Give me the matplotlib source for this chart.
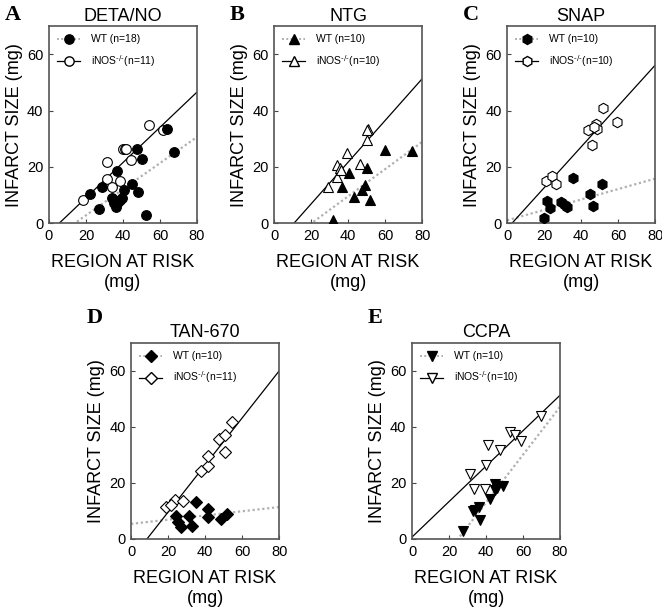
import numpy as np
import matplotlib
matplotlib.use("Agg")
import matplotlib.pyplot as plt
from matplotlib.lines import Line2D
from matplotlib.legend_handler import HandlerLine2D

plt.rcParams['font.family'] = ['Liberation Sans', 'DejaVu Sans']
plt.rcParams['mathtext.default'] = 'regular'

# ---- data (mg) ----
# A: DETA/NO
a_wt_x = [22.1, 27.0, 28.9, 37.0, 33.8, 36.1, 38.3, 40.4, 44.6, 48.2, 47.3, 50.3, 52.7, 64.0, 67.6, 37.4, 39.2, 35.0]
a_wt_y = [10.4, 5.1, 12.8, 18.5, 9.0, 5.9, 8.3, 11.9, 14.0, 11.0, 26.2, 22.9, 3.0, 33.3, 25.4, 7.5, 9.0, 7.0]
a_ko_x = [18.5, 31.1, 31.5, 33.8, 38.3, 40.1, 41.0, 44.2, 54.1, 61.7, 41.8]
a_ko_y = [8.3, 21.7, 15.8, 13.0, 14.8, 26.5, 26.5, 22.3, 35.0, 33.2, 26.3]
a_wt_fit = [0.464, -6.5]   # slope, intercept
a_ko_fit = [0.626, -3.5]

# B: NTG
b_wt_x = [31.6, 36.5, 40.4, 43.1, 47.3, 49.1, 50.3, 51.8, 60.2, 74.8]
b_wt_y = [1.2, 12.8, 17.9, 9.3, 11.6, 13.4, 19.7, 8.3, 25.9, 25.6]
b_ko_x = [28.9, 33.8, 33.8, 35.6, 39.2, 46.7, 50.3, 50.9, 50.0, 36.0]
b_ko_y = [13.0, 16.4, 20.5, 19.7, 24.9, 20.9, 29.4, 33.6, 33.0, 19.0]
b_wt_fit = [0.483, -9.8]
b_ko_fit = [0.741, -8.0]

# C: SNAP
c_wt_x = [20.0, 21.8, 23.0, 29.3, 32.5, 35.6, 44.9, 46.4, 51.4, 31.1]
c_wt_y = [1.9, 7.8, 5.5, 7.5, 5.7, 16.1, 10.2, 6.0, 13.8, 6.6]
c_ko_x = [21.2, 24.4, 26.2, 43.7, 46.0, 47.8, 48.7, 51.8, 59.3, 46.7]
c_ko_y = [14.9, 16.6, 14.0, 33.2, 27.6, 35.3, 33.6, 41.0, 35.9, 34.2]
c_wt_fit = [0.185, 1.0]
c_ko_fit = [0.726, -1.96]

# D: TAN-670
d_wt_x = [24.4, 25.3, 26.8, 31.3, 33.1, 34.9, 41.5, 41.5, 48.7, 51.8]
d_wt_y = [8.3, 6.0, 4.3, 8.1, 4.8, 13.2, 10.7, 7.9, 7.3, 9.0]
d_ko_x = [19.1, 23.9, 28.0, 37.6, 41.5, 41.5, 47.3, 50.5, 50.5, 54.7, 21.8]
d_ko_y = [11.3, 14.0, 13.5, 24.4, 26.2, 29.8, 35.7, 31.0, 37.3, 41.7, 12.3]
d_wt_fit = [0.075, 5.4]
d_ko_fit = [0.840, -7.2]

# E: CCPA
e_wt_x = [27.5, 32.9, 36.0, 37.0, 41.9, 44.9, 46.0, 49.1, 44.6, 33.8]
e_wt_y = [2.7, 9.9, 11.4, 6.7, 14.3, 19.6, 18.2, 18.8, 17.6, 10.5]
e_ko_x = [31.1, 33.4, 39.2, 40.1, 41.3, 47.8, 52.7, 55.4, 59.0, 69.8]
e_ko_y = [23.3, 17.9, 17.9, 26.5, 33.5, 31.9, 38.1, 37.3, 34.9, 44.0]
e_wt_fit = [0.855, -21.2]
e_ko_fit = [0.633, 0.7]

letters = ['A', 'B', 'C', 'D', 'E']
titles = ['DETA/NO', 'NTG', 'SNAP', 'TAN-670', 'CCPA']
markers = ['o', '^', 'h', 'D', 'v']
n_wt = [18, 10, 10, 10, 10]
n_ko = [11, 10, 10, 11, 10]

panels = [
    (a_wt_x, a_wt_y, a_ko_x, a_ko_y, a_wt_fit, a_ko_fit),
    (b_wt_x, b_wt_y, b_ko_x, b_ko_y, b_wt_fit, b_ko_fit),
    (c_wt_x, c_wt_y, c_ko_x, c_ko_y, c_wt_fit, c_ko_fit),
    (d_wt_x, d_wt_y, d_ko_x, d_ko_y, d_wt_fit, d_ko_fit),
    (e_wt_x, e_wt_y, e_ko_x, e_ko_y, e_wt_fit, e_ko_fit),
]

# axes rectangles in figure fraction
rects = [
    [0.074, 0.633, 0.2236, 0.324],
    [0.414, 0.633, 0.2236, 0.324],
    [0.766, 0.633, 0.2236, 0.324],
    [0.198, 0.1135, 0.2236, 0.3224],
    [0.6224, 0.1135, 0.2236, 0.3224],
]
marker_sizes = {'o': 7, '^': 7.5, 'h': 7.5, 'D': 6, 'v': 7.5}

DOT = '#b0b0b0'


class MarkerRight(HandlerLine2D):
    # legend handle with the marker at the right end of the line sample
    def get_xdata(self, legend, xdescent, ydescent, width, height, fontsize):
        xdata, _ = super().get_xdata(legend, xdescent, ydescent, width, height, fontsize)
        return xdata, [-xdescent + width]


fig = plt.figure(figsize=(6.62, 6.08), dpi=100)

for i, (wx, wy, kx, ky, wfit, kfit) in enumerate(panels):
    ax = fig.add_axes(rects[i])
    m = markers[i]
    ms = marker_sizes[m]
    xx = np.array([0, 80])

    ax.plot(xx, wfit[0] * xx + wfit[1], linestyle=(0, (1, 1.2)), color=DOT, lw=1.6, zorder=1)
    ax.plot(xx, kfit[0] * xx + kfit[1], color='black', lw=0.9, zorder=1)
    ax.plot(kx, ky, linestyle='none', marker=m, ms=ms, mfc='white', mec='black', mew=0.8, zorder=2)
    ax.plot(wx, wy, linestyle='none', marker=m, ms=ms, mfc='black', mec='black', mew=0.8, zorder=3)

    ax.set_xlim(0, 80)
    ax.set_ylim(0, 70)
    ax.set_xticks([0, 20, 40, 60, 80])
    ax.set_yticks([0, 20, 40, 60])
    ax.tick_params(direction='in', length=3, width=0.8, labelsize=10.5, color='#444444', pad=4)
    for sp in ax.spines.values():
        sp.set_color('#555555')
        sp.set_linewidth(1.2)

    ax.set_xlabel('REGION AT RISK\n(mg)', fontsize=13, labelpad=8, linespacing=1.25)
    ax.set_ylabel('INFARCT SIZE (mg)', fontsize=13, labelpad=3)
    ax.set_title(titles[i], fontsize=13, pad=4)

    h_wt = Line2D([], [], linestyle=(0, (1, 1.2)), color=DOT, lw=1.4, marker=m, ms=ms - 0.3,
                  mfc='black', mec='black')
    h_ko = Line2D([], [], color='black', lw=0.9, marker=m, ms=ms - 0.3, mfc='white', mec='black')
    ax.legend([h_wt, h_ko], ['WT (n=%d)' % n_wt[i], 'iNOS$^{\\text{-/-}}$(n=%d)' % n_ko[i]],
              loc='upper left', frameon=False, fontsize=7.5, numpoints=1,
              handlelength=2.2, handletextpad=1.0, labelspacing=0.8,
              borderaxespad=0.4, handler_map={Line2D: MarkerRight()})

    pos = ax.get_position()
    dy = 21 / 608 if i < 3 else 35 / 608
    fig.text(pos.x0 - 44 / 662, pos.y1 + dy, letters[i],
             fontsize=16, fontweight='bold', family='Liberation Serif', va='top')

fig.savefig('out.png', dpi=100)
